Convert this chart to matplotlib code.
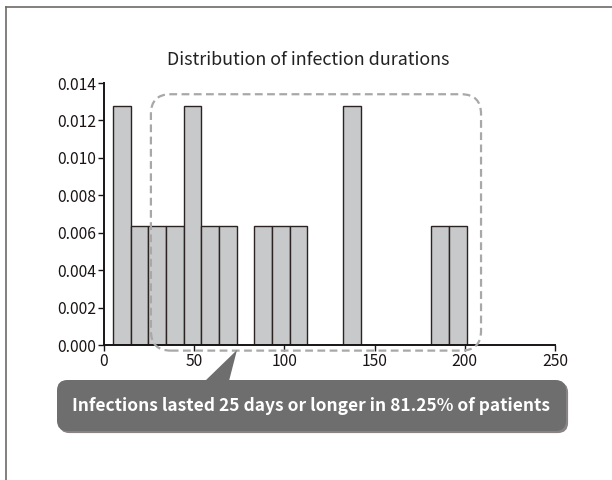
import matplotlib
matplotlib.use("Agg")
import matplotlib.pyplot as plt
from matplotlib.patches import FancyBboxPatch, Polygon
from matplotlib.lines import Line2D
import matplotlib.patheffects as pe

plt.rcParams["font.family"] = ["Noto Sans CJK JP", "DejaVu Sans"]

# infection durations (days) for 16 patients
durations = [5, 10, 20, 30, 40, 45, 50, 58, 70, 90, 100, 108, 135, 140, 185, 201]
n_bins = 20
x_ticks = [0, 50, 100, 150, 200, 250]
y_ticks = [0.000, 0.002, 0.004, 0.006, 0.008, 0.010, 0.012, 0.014]
title = "Distribution of infection durations"
callout = "Infections lasted 25 days or longer in 81.25% of patients"

fig = plt.figure(figsize=(6.12, 4.8), dpi=100)
ax = fig.add_axes([104 / 612, 1 - 345 / 480, 451 / 612, 262 / 480])

ax.hist(durations, bins=n_bins, density=True, color="#c8c9cb",
        edgecolor="#2b2222", linewidth=1.0)
ax.set_xlim(0, 250)
ax.set_ylim(0, 0.014)
ax.set_xticks(x_ticks)
ax.set_yticks(y_ticks)
ax.set_yticklabels([f"{v:.3f}" for v in y_ticks])
for s in ("top", "right"):
    ax.spines[s].set_visible(False)
for s in ("left", "bottom"):
    ax.spines[s].set_linewidth(1.4)
    ax.spines[s].set_color("#1a1414")
ax.tick_params(direction="out", length=4, width=1, labelsize=11.3,
               colors="#1a1414", pad=1.5)

fig.text(0.503, 1 - 60 / 480, title, ha="center", va="center",
         fontsize=12.9, color="#222222")

# dashed rounded highlight for durations >= 25
hl = FancyBboxPatch((26, -0.0003), 183, 0.0137,
                    boxstyle="round,pad=0,rounding_size=11",
                    mutation_aspect=0.0000962, transform=ax.transData,
                    fill=False, edgecolor="#a8a8a8", linewidth=1.6,
                    linestyle=(0, (3.5, 2)), clip_on=False, zorder=5)
ax.add_patch(hl)

# callout box with pointer
box_col = "#6e6e6e"
shadow = [pe.withSimplePatchShadow(offset=(1.5, -1.5), shadow_rgbFace="#3a3030", alpha=0.6)]
box = FancyBboxPatch((57 / 612, 1 - 431 / 480), 509 / 612, 51 / 480,
                     boxstyle="round,pad=0,rounding_size=0.017",
                     mutation_aspect=612 / 480, transform=fig.transFigure,
                     facecolor=box_col, edgecolor="none", path_effects=shadow)
fig.patches.append(box)
tri = Polygon([(205 / 612, 1 - 381 / 480), (229 / 612, 1 - 381 / 480),
               (237 / 612, 1 - 350 / 480)], closed=True,
              transform=fig.transFigure, facecolor=box_col, edgecolor="none")
fig.patches.append(tri)
fig.text(311 / 612, 1 - 406 / 480, callout, ha="center", va="center",
         fontsize=12.5, fontweight="bold", color="white")

# frame lines of the panel
fig.lines.append(Line2D([6 / 612, 1], [1 - 7 / 480, 1 - 7 / 480],
                        transform=fig.transFigure, color="#706a66", linewidth=1.2))
fig.lines.append(Line2D([6 / 612, 6 / 612], [0, 1 - 7 / 480],
                        transform=fig.transFigure, color="#706a66", linewidth=1.2))

fig.savefig("out.png", dpi=100)
plt.close(fig)
